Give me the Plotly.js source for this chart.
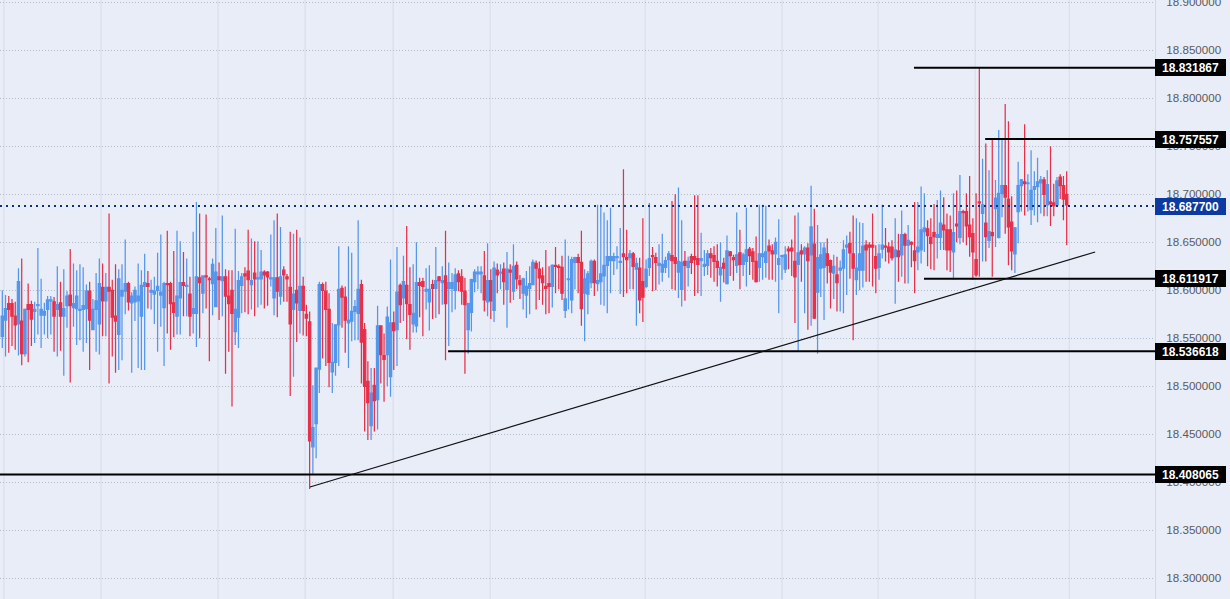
<!DOCTYPE html>
<html>
<head>
<meta charset="utf-8">
<script src="https://cdn.plot.ly/plotly-3.0.1.min.js"></script>
<style>html,body{margin:0;padding:0;background:#e9edf8;overflow:hidden}#chart{width:1230px;height:599px}</style>
</head>
<body>
<div id="chart"></div>
<script>
const opens = [
18.552,18.569,18.586,18.586,18.573,18.565,18.568,18.534,18.585,18.585,
18.578,18.584,18.574,18.574,18.580,18.589,18.588,18.580,18.587,18.573,
18.584,18.595,18.582,18.581,18.579,18.580,18.581,18.599,18.559,18.580,
18.565,18.603,18.589,18.603,18.600,18.573,18.554,18.594,18.599,18.607,
18.587,18.588,18.589,18.573,18.604,18.607,18.598,18.596,18.600,18.595,
18.582,18.607,18.607,18.587,18.573,18.592,18.608,18.604,18.596,18.576,
18.576,18.613,18.597,18.615,18.612,18.607,18.583,18.614,18.610,18.614,
18.594,18.600,18.557,18.572,18.605,18.617,18.620,18.606,18.618,18.612,
18.612,18.619,18.619,18.612,18.592,18.613,18.594,18.621,18.614,18.603,
18.580,18.600,18.579,18.604,18.575,18.567,18.437,18.461,18.518,18.606,
18.599,18.580,18.515,18.525,18.564,18.602,18.593,18.566,18.568,18.578,
18.576,18.606,18.559,18.505,18.459,18.501,18.486,18.563,18.532,18.533,
18.510,18.566,18.559,18.605,18.592,18.605,18.585,18.565,18.563,18.608,
18.609,18.599,18.588,18.606,18.602,18.614,18.608,18.615,18.602,18.602,
18.600,18.617,18.614,18.599,18.559,18.577,18.609,18.617,18.617,18.615,
18.588,18.610,18.579,18.621,18.618,18.622,18.601,18.621,18.599,18.626,
18.610,18.597,18.595,18.602,18.606,18.628,18.622,18.615,18.604,18.607,
18.604,18.626,18.625,18.624,18.579,18.611,18.590,18.629,18.634,18.629,
18.597,18.596,18.608,18.630,18.607,18.609,18.615,18.626,18.631,18.631,
18.634,18.629,18.638,18.634,18.634,18.638,18.622,18.623,18.609,18.604,
18.624,18.636,18.634,18.626,18.619,18.624,18.632,18.636,18.634,18.619,
18.601,18.630,18.624,18.635,18.635,18.633,18.631,18.625,18.626,18.638,
18.636,18.630,18.616,18.628,18.607,18.640,18.634,18.626,18.639,18.627,
18.630,18.643,18.640,18.630,18.624,18.635,18.629,18.646,18.641,18.638,
18.627,18.635,18.622,18.643,18.644,18.630,18.627,18.641,18.638,18.644,
18.637,18.648,18.598,18.623,18.624,18.638,18.631,18.618,18.616,18.621,
18.623,18.645,18.649,18.638,18.611,18.621,18.621,18.647,18.647,18.647,
18.635,18.624,18.643,18.646,18.645,18.645,18.635,18.641,18.637,18.658,
18.647,18.650,18.641,18.640,18.642,18.661,18.664,18.655,18.660,18.655,
18.655,18.668,18.663,18.663,18.640,18.669,18.655,18.682,18.682,18.668,
18.659,18.632,18.692,18.680,18.670,18.652,18.660,18.685,18.655,18.701,
18.709,18.695,18.671,18.638,18.682,18.709,18.713,18.711,18.684,18.705,
18.708,18.712,18.715,18.689,18.692,18.691,18.689,18.718,18.709,18.700
];
const highs = [
18.600,18.595,18.594,18.591,18.588,18.623,18.633,18.581,18.607,18.589,
18.588,18.644,18.612,18.587,18.594,18.594,18.593,18.625,18.609,18.622,
18.599,18.643,18.628,18.621,18.627,18.624,18.606,18.609,18.591,18.618,
18.633,18.628,18.618,18.680,18.611,18.627,18.622,18.627,18.653,18.609,
18.598,18.604,18.628,18.621,18.638,18.620,18.611,18.614,18.639,18.658,
18.609,18.662,18.609,18.641,18.662,18.651,18.640,18.633,18.614,18.661,
18.692,18.680,18.615,18.679,18.614,18.633,18.665,18.629,18.678,18.622,
18.621,18.621,18.664,18.620,18.618,18.624,18.663,18.654,18.651,18.651,
18.642,18.621,18.620,18.658,18.673,18.680,18.666,18.625,18.617,18.661,
18.659,18.663,18.655,18.614,18.585,18.578,18.501,18.519,18.609,18.608,
18.609,18.597,18.566,18.564,18.646,18.605,18.604,18.646,18.639,18.590,
18.673,18.611,18.566,18.526,18.519,18.519,18.584,18.563,18.555,18.583,
18.632,18.578,18.645,18.607,18.636,18.667,18.624,18.627,18.650,18.613,
18.613,18.623,18.626,18.611,18.645,18.615,18.625,18.662,18.629,18.618,
18.623,18.621,18.622,18.613,18.587,18.612,18.622,18.625,18.625,18.641,
18.649,18.622,18.630,18.628,18.627,18.629,18.640,18.627,18.648,18.630,
18.616,18.613,18.620,18.625,18.632,18.631,18.630,18.624,18.642,18.625,
18.627,18.645,18.627,18.636,18.653,18.636,18.635,18.635,18.638,18.662,
18.622,18.620,18.632,18.632,18.689,18.689,18.681,18.673,18.686,18.639,
18.646,18.665,18.726,18.663,18.642,18.640,18.634,18.634,18.675,18.632,
18.691,18.645,18.639,18.648,18.659,18.635,18.641,18.693,18.700,18.707,
18.673,18.641,18.635,18.638,18.699,18.699,18.660,18.642,18.642,18.644,
18.646,18.648,18.650,18.634,18.657,18.641,18.637,18.681,18.663,18.639,
18.686,18.645,18.644,18.656,18.689,18.689,18.688,18.653,18.648,18.655,
18.674,18.637,18.646,18.646,18.653,18.678,18.681,18.648,18.646,18.649,
18.709,18.685,18.668,18.650,18.650,18.654,18.632,18.637,18.635,18.631,
18.652,18.657,18.661,18.678,18.675,18.671,18.670,18.652,18.650,18.680,
18.647,18.648,18.689,18.665,18.650,18.652,18.675,18.659,18.683,18.660,
18.668,18.651,18.692,18.692,18.708,18.701,18.673,18.675,18.690,18.694,
18.704,18.697,18.680,18.678,18.701,18.704,18.720,18.684,18.701,18.719,
18.675,18.701,18.832,18.737,18.753,18.725,18.758,18.715,18.767,18.758,
18.794,18.776,18.698,18.666,18.734,18.716,18.773,18.721,18.746,18.724,
18.738,18.719,18.718,18.725,18.750,18.711,18.718,18.721,18.719,18.724
];
const lows = [
18.540,18.531,18.535,18.542,18.538,18.532,18.522,18.531,18.525,18.542,
18.545,18.554,18.540,18.554,18.550,18.554,18.536,18.531,18.537,18.511,
18.561,18.504,18.562,18.543,18.548,18.536,18.545,18.517,18.559,18.536,
18.533,18.552,18.552,18.503,18.531,18.514,18.517,18.527,18.575,18.579,
18.514,18.568,18.519,18.517,18.517,18.581,18.580,18.565,18.536,18.562,
18.521,18.555,18.538,18.551,18.554,18.554,18.573,18.573,18.552,18.555,
18.541,18.550,18.576,18.581,18.526,18.574,18.583,18.569,18.573,18.513,
18.536,18.479,18.543,18.540,18.576,18.577,18.575,18.580,18.573,18.582,
18.585,18.581,18.584,18.604,18.574,18.572,18.585,18.588,18.588,18.490,
18.510,18.546,18.555,18.553,18.552,18.393,18.409,18.425,18.493,18.529,
18.521,18.499,18.493,18.511,18.521,18.561,18.535,18.519,18.547,18.548,
18.548,18.503,18.453,18.444,18.444,18.453,18.455,18.503,18.484,18.500,
18.489,18.517,18.521,18.566,18.568,18.549,18.538,18.556,18.556,18.572,
18.552,18.580,18.558,18.570,18.571,18.575,18.585,18.527,18.542,18.577,
18.580,18.599,18.585,18.513,18.534,18.557,18.598,18.601,18.597,18.578,
18.573,18.570,18.567,18.597,18.601,18.585,18.561,18.587,18.590,18.601,
18.591,18.580,18.571,18.575,18.606,18.580,18.590,18.585,18.575,18.576,
18.582,18.597,18.601,18.590,18.571,18.580,18.576,18.601,18.597,18.563,
18.547,18.575,18.602,18.594,18.599,18.585,18.584,18.576,18.597,18.616,
18.622,18.596,18.593,18.597,18.601,18.601,18.563,18.576,18.567,18.602,
18.615,18.599,18.600,18.606,18.609,18.618,18.613,18.601,18.600,18.592,
18.583,18.589,18.604,18.617,18.594,18.597,18.594,18.615,18.616,18.613,
18.609,18.604,18.588,18.608,18.606,18.615,18.610,18.618,18.601,18.615,
18.604,18.616,18.611,18.608,18.609,18.611,18.613,18.611,18.611,18.609,
18.576,18.611,18.618,18.622,18.615,18.566,18.537,18.609,18.576,18.559,
18.563,18.570,18.534,18.593,18.569,18.607,18.581,18.591,18.578,18.578,
18.576,18.595,18.612,18.548,18.595,18.600,18.603,18.609,18.609,18.604,
18.597,18.611,18.633,18.630,18.628,18.631,18.586,18.609,18.614,18.607,
18.607,18.624,18.597,18.621,18.628,18.640,18.625,18.622,18.621,18.633,
18.642,18.642,18.621,18.619,18.611,18.650,18.648,18.650,18.647,18.635,
18.611,18.614,18.614,18.630,18.630,18.644,18.614,18.645,18.654,18.676,
18.659,18.626,18.621,18.618,18.649,18.682,18.678,18.682,18.668,18.678,
18.671,18.680,18.677,18.677,18.667,18.677,18.687,18.695,18.673,18.647
];
const closes = [
18.573,18.581,18.580,18.573,18.564,18.609,18.534,18.580,18.580,18.570,
18.580,18.585,18.580,18.578,18.590,18.590,18.573,18.585,18.573,18.581,
18.594,18.584,18.586,18.594,18.580,18.584,18.599,18.569,18.580,18.589,
18.607,18.589,18.603,18.599,18.572,18.568,18.612,18.600,18.607,18.588,
18.594,18.600,18.594,18.605,18.608,18.604,18.600,18.599,18.604,18.598,
18.607,18.606,18.586,18.577,18.594,18.608,18.605,18.605,18.573,18.581,
18.614,18.608,18.615,18.614,18.611,18.627,18.619,18.611,18.614,18.594,
18.586,18.576,18.580,18.610,18.614,18.615,18.611,18.610,18.612,18.613,
18.619,18.616,18.614,18.613,18.613,18.599,18.614,18.616,18.612,18.565,
18.596,18.587,18.604,18.579,18.571,18.443,18.457,18.519,18.606,18.600,
18.580,18.525,18.525,18.564,18.601,18.593,18.569,18.569,18.578,18.583,
18.601,18.546,18.500,18.483,18.493,18.485,18.563,18.533,18.528,18.572,
18.566,18.558,18.598,18.585,18.609,18.586,18.575,18.576,18.608,18.605,
18.604,18.601,18.601,18.602,18.610,18.610,18.610,18.586,18.608,18.608,
18.616,18.609,18.599,18.585,18.586,18.611,18.619,18.619,18.619,18.590,
18.610,18.589,18.623,18.616,18.619,18.609,18.622,18.619,18.625,18.612,
18.606,18.612,18.604,18.607,18.629,18.623,18.613,18.608,18.602,18.604,
18.626,18.625,18.624,18.597,18.591,18.612,18.632,18.634,18.629,18.581,
18.612,18.617,18.630,18.608,18.610,18.617,18.626,18.635,18.635,18.635,
18.635,18.630,18.635,18.632,18.638,18.625,18.628,18.590,18.593,18.622,
18.633,18.635,18.629,18.628,18.627,18.631,18.638,18.631,18.628,18.630,
18.629,18.626,18.630,18.629,18.632,18.627,18.633,18.627,18.638,18.634,
18.630,18.624,18.624,18.623,18.641,18.636,18.632,18.637,18.627,18.637,
18.642,18.636,18.630,18.609,18.638,18.638,18.640,18.641,18.638,18.650,
18.633,18.636,18.637,18.641,18.641,18.614,18.639,18.638,18.644,18.631,
18.666,18.571,18.634,18.637,18.644,18.626,18.619,18.625,18.608,18.623,
18.642,18.647,18.639,18.623,18.623,18.638,18.646,18.642,18.645,18.645,
18.623,18.638,18.647,18.645,18.640,18.634,18.642,18.635,18.658,18.647,
18.652,18.648,18.631,18.645,18.663,18.665,18.657,18.649,18.656,18.658,
18.670,18.663,18.642,18.642,18.660,18.667,18.682,18.681,18.667,18.656,
18.640,18.616,18.691,18.689,18.656,18.661,18.657,18.696,18.701,18.709,
18.697,18.666,18.641,18.665,18.709,18.715,18.711,18.712,18.704,18.708,
18.713,18.715,18.700,18.710,18.690,18.688,18.714,18.709,18.695,18.689
];

// horizontal levels: price, first bar the line starts at, label fill
const levelPrices = [18.831867, 18.757557, 18.611917, 18.536618, 18.408065];
const levelStarts = [281.8, 303.8, 284.9, 137.8, -0.71];
const lastPrice = 18.6877;
const trendBars = [95.1, 337.8];
const trendPrices = [18.3951, 18.6399];
const priceTicks = [18.30,18.35,18.40,18.45,18.50,18.55,18.60,18.65,18.70,18.75,18.80,18.85,18.90];
const vGrid = [0.5, 30.5, 66.7, 93.6, 120.8, 150.8, 198.7, 241, 270.7, 300.7, 329.8];

const xMin = -0.71, xMax = 356.3;
const bars = opens.map((_, i) => i);

const traces = [{
  type: 'candlestick', x: bars, open: opens, high: highs, low: lows, close: closes,
  increasing: {line: {color: '#5596ea', width: 1.25}, fillcolor: '#5596ea'},
  decreasing: {line: {color: '#e6304a', width: 1.25}, fillcolor: '#e6304a'},
  whiskerwidth: 0, hoverinfo: 'skip', showlegend: false
}];
levelPrices.forEach((p, k) => traces.push({
  type: 'scatter', mode: 'lines', x: [levelStarts[k], xMax], y: [p, p],
  line: {color: '#000', width: 2}, showlegend: false, hoverinfo: 'skip'
}));
traces.push({
  type: 'scatter', mode: 'lines', x: [xMin, xMax], y: [lastPrice, lastPrice],
  line: {color: '#0f2f7f', width: 2, dash: '2px,4px'}, showlegend: false, hoverinfo: 'skip'
});
traces.push({
  type: 'scatter', mode: 'lines', x: trendBars, y: trendPrices,
  line: {color: '#111', width: 1.2}, showlegend: false, hoverinfo: 'skip'
});

const labelFont = {family: 'Liberation Sans, Arial, sans-serif', size: 12, color: '#fff'};
const labelOf = (p, fill) => ({
  xref: 'paper', yref: 'y', x: 1, y: p, xanchor: 'left', yanchor: 'middle',
  text: '<b>' + p.toFixed(6) + '</b>', showarrow: false, font: labelFont,
  bgcolor: fill, width: 71, height: 17, align: 'center', borderpad: 0, borderwidth: 0
});
const annotations = levelPrices.map(p => labelOf(p, '#000')).concat([labelOf(lastPrice, '#0d3aa0')]);
const shapes = vGrid.map(v => ({
  type: 'line', layer: 'below', xref: 'x', yref: 'paper', x0: v, x1: v, y0: 0, y1: 1,
  line: {color: '#d6dce9', width: 1}
}));

Plotly.newPlot('chart', traces, {
  width: 1230, height: 599,
  margin: {l: 0, r: 75, t: 0, b: 0, pad: 0},
  paper_bgcolor: '#e9edf8', plot_bgcolor: '#e9edf8',
  boxgap: 0,
  showlegend: false,
  xaxis: {range: [xMin, xMax], showgrid: false, showticklabels: false, zeroline: false, ticks: '', rangeslider: {visible: false}, fixedrange: true},
  yaxis: {
    side: 'right', range: [18.2784, 18.9024], tickmode: 'array', tickvals: priceTicks,
    ticktext: priceTicks.map(v => v.toFixed(6)), ticks: '', ticklabelstandoff: 8, ticklabeloverflow: 'allow',
    showgrid: true, gridcolor: '#b4b9c6', griddash: '1px,2px', gridwidth: 1, zeroline: false,
    showline: true, linecolor: '#d3d8e4', linewidth: 1,
    tickfont: {family: 'Liberation Sans, Arial, sans-serif', size: 11.6, color: '#5a5a5a'}, fixedrange: true
  },
  annotations, shapes
}, {displayModeBar: false, staticPlot: true});
</script>
</body>
</html>
